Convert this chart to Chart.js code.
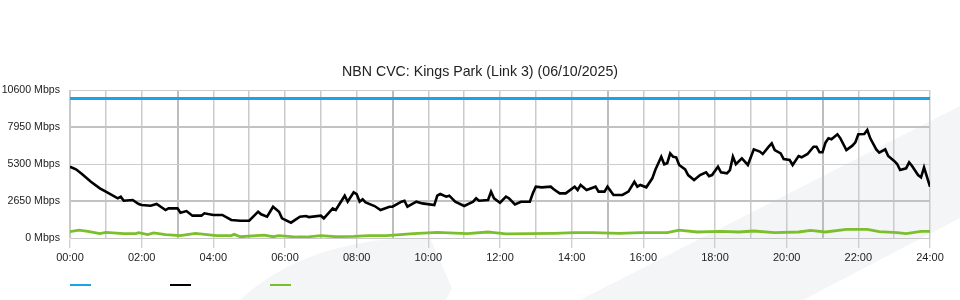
<!DOCTYPE html>
<html>
<head>
<meta charset="utf-8">
<script src="https://cdn.jsdelivr.net/npm/chart.js@4/dist/chart.umd.min.js"></script>
<style>
  html, body { margin: 0; padding: 0; background: #fff; }
  #wrap { position: relative; width: 960px; height: 300px; overflow: hidden; }
  #c { position: absolute; left: 0; top: 0; }
  .sw { position: absolute; top: 284px; width: 21px; height: 2px; }
</style>
</head>
<body>
<div id="wrap">
  <canvas id="c" width="960" height="300"></canvas>
  <div class="sw" style="left:70px;background:#1aa3e6"></div>
  <div class="sw" style="left:170px;background:#000"></div>
  <div class="sw" style="left:270px;background:#7cbf2c"></div>
</div>
<script>
// ---- data ----
const chartTitle = 'NBN CVC: Kings Park (Link 3) (06/10/2025)';
const yTickValues = [0, 2650, 5300, 7950, 10600];
const xTickLabels = ['00:00','02:00','04:00','06:00','08:00','10:00','12:00','14:00','16:00','18:00','20:00','22:00','24:00'];

const capacityTimes = ['00:00', '24:00'];
const capacityValues = [10000, 10000];

const downTimes = ['00:00','00:10','00:20','00:35','00:50','01:00','01:20','01:25','01:30','01:45','01:55','02:00','02:15','02:25','02:40','02:45','03:00','03:05','03:15','03:25','03:40','03:45','04:00','04:15','04:30','04:45','05:00','05:15','05:20','05:30','05:40','05:50','05:55','06:10','06:25','06:35','06:40','07:00','07:05','07:20','07:25','07:40','07:45','07:55','08:00','08:05','08:10','08:15','08:30','08:40','08:55','09:00','09:15','09:20','09:25','09:40','09:50','10:10','10:15','10:20','10:30','10:35','10:45','11:00','11:15','11:20','11:25','11:40','11:45','11:50','12:00','12:10','12:15','12:25','12:35','12:50','12:55','13:00','13:10','13:25','13:30','13:40','13:50','14:05','14:10','14:15','14:25','14:40','14:45','14:55','15:00','15:10','15:25','15:35','15:45','15:50','15:55','16:05','16:15','16:20','16:30','16:35','16:40','16:45','16:50','16:55','17:00','17:10','17:15','17:25','17:35','17:45','17:50','17:55','18:05','18:10','18:20','18:25','18:30','18:35','18:45','18:55','19:05','19:15','19:20','19:30','19:35','19:40','19:50','19:55','20:05','20:10','20:20','20:25','20:35','20:45','20:50','20:55','21:00','21:05','21:10','21:15','21:25','21:30','21:40','21:50','21:55','22:00','22:10','22:15','22:20','22:30','22:35','22:45','22:50','23:00','23:05','23:10','23:20','23:25','23:30','23:40','23:45','23:50','24:00'];
const downValues = [5100,4920,4580,4030,3560,3320,2840,2960,2670,2720,2435,2360,2310,2435,2005,2125,2125,1810,1930,1600,1600,1770,1650,1650,1290,1240,1240,1885,1700,1530,2240,1885,1410,1100,1530,1575,1500,1600,1410,2125,2005,3030,2600,3270,3150,2600,2770,2555,2290,2005,2240,2240,2600,2670,2240,2600,2480,2360,3030,3150,2960,3030,2600,2290,2600,2840,2670,2720,3320,2840,2530,2960,2840,2410,2600,2600,3200,3675,3630,3675,3490,3200,3200,3675,3440,3800,3440,3675,3320,3320,3675,3080,3080,3320,4030,3675,3800,3630,4275,4870,5820,5280,5360,6065,5820,5780,5230,4920,4510,4155,4510,4705,4430,4510,5110,4705,4630,4870,5820,5280,5700,5230,6350,6190,6020,6540,6780,6300,6065,5660,5590,5230,5870,5780,6020,6540,6540,6140,6140,6830,7140,7070,7430,7140,6300,6615,6850,7430,7450,7735,7140,6350,6120,6350,5870,5520,5300,4870,4990,5420,5160,4510,4350,5060,3675];

const upTimes = ['00:00','00:15','00:30','00:50','01:00','01:30','01:50','01:55','02:10','02:20','02:40','03:05','03:30','04:05','04:30','04:35','04:45','05:25','05:40','05:50','06:20','06:35','07:00','07:25','07:55','08:20','08:50','09:35','10:15','11:05','11:40','11:50','12:10','13:30','14:05','14:35','15:20','15:55','16:40','17:00','17:30','18:10','18:40','19:05','19:40','20:20','20:40','21:05','21:40','22:15','22:35','23:05','23:20','23:45','24:00'];
const upValues = [450,570,480,310,400,310,310,380,240,360,240,170,330,170,170,260,90,210,90,170,70,70,170,95,120,170,170,310,400,310,430,380,290,330,380,380,330,380,380,570,430,480,430,500,380,430,550,430,620,620,450,380,310,480,480];

// ---- helpers ----
const toMin = t => { const [h, m] = t.split(':').map(Number); return h * 60 + m; };
const pairs = (ts, vs) => ts.map((t, i) => ({ x: toMin(t), y: vs[i] }));

const FONT = "'Liberation Sans', Arial, sans-serif";

const bgShapes = {
  id: 'bgShapes',
  beforeDraw(chart) {
    const c = chart.ctx;
    c.save();
    c.fillStyle = '#f4f5f7';
    c.beginPath();
    c.moveTo(240, 300);
    c.quadraticCurveTo(300, 244, 405, 238);
    c.lineTo(430, 238);
    c.lineTo(452, 288);
    c.lineTo(446, 300);
    c.closePath();
    c.fill();
    c.beginPath();
    c.moveTo(580, 300);
    c.lineTo(960, 106);
    c.lineTo(960, 218);
    c.lineTo(803, 300);
    c.closePath();
    c.fill();
    c.restore();
  }
};

const isMajorHour = v => Math.round(v / 60) % 6 === 3;

new Chart(document.getElementById('c'), {
  type: 'line',
  data: {
    datasets: [
      { data: pairs(capacityTimes, capacityValues), borderColor: '#1aa3e6', borderWidth: 3, pointRadius: 0, fill: false },
      { data: pairs(downTimes, downValues), borderColor: '#000000', borderWidth: 2.6, pointRadius: 0, fill: false, tension: 0 },
      { data: pairs(upTimes, upValues), borderColor: '#7cbf2c', borderWidth: 2.8, pointRadius: 0, fill: false, tension: 0 }
    ]
  },
  options: {
    responsive: false,
    animation: false,
    layout: { padding: 0 },
    plugins: {
      legend: { display: false },
      tooltip: { enabled: false },
      title: {
        display: true,
        text: chartTitle,
        color: '#222',
        font: { family: FONT, size: 14.2, weight: 'normal' },
        padding: { top: 64, bottom: 9 }
      }
    },
    scales: {
      x: {
        type: 'linear',
        min: 0, max: 1440,
        afterFit: s => { s.height = 62; },
        border: { display: true, color: '#c8c8c8', width: 1 },
        grid: {
          drawTicks: true,
          tickLength: 10,
          color: ctx => isMajorHour(ctx.tick.value) ? '#bdbdbd' : '#cbcbcb',
          lineWidth: ctx => isMajorHour(ctx.tick.value) ? 2 : 1.5,
          tickColor: ctx => (Math.round(ctx.tick.value / 60) % 2 === 0) ? '#c0c0c0' : 'rgba(0,0,0,0)',
          tickWidth: 1
        },
        ticks: {
          stepSize: 60,
          autoSkip: false,
          maxRotation: 0,
          padding: 3,
          color: '#222',
          font: { family: FONT, size: 11 },
          callback: v => (v % 120 === 0) ? xTickLabels[v / 120] : ''
        }
      },
      y: {
        min: 0, max: 10600,
        afterFit: s => { s.width = 70; },
        afterBuildTicks: s => { s.ticks = yTickValues.map(v => ({ value: v })); },
        border: { display: true, color: '#c8c8c8', width: 1 },
        grid: {
          drawTicks: false,
          color: ctx => (Math.round(ctx.tick.value / 2650) % 2 === 1) ? '#c2c2c2' : '#cdcdcd',
          lineWidth: ctx => (Math.round(ctx.tick.value / 2650) % 2 === 1) ? 2 : 1
        },
        ticks: {
          padding: 10,
          color: '#222',
          font: { family: FONT, size: 10.6 },
          callback: v => v + ' Mbps'
        }
      },
      yRightSpace: {
        position: 'right',
        min: 0, max: 1,
        afterFit: s => { s.width = 30; },
        grid: { display: false, drawTicks: false },
        border: { display: false },
        ticks: { display: false }
      }
    }
  },
  plugins: [bgShapes]
});
</script>
</body>
</html>
